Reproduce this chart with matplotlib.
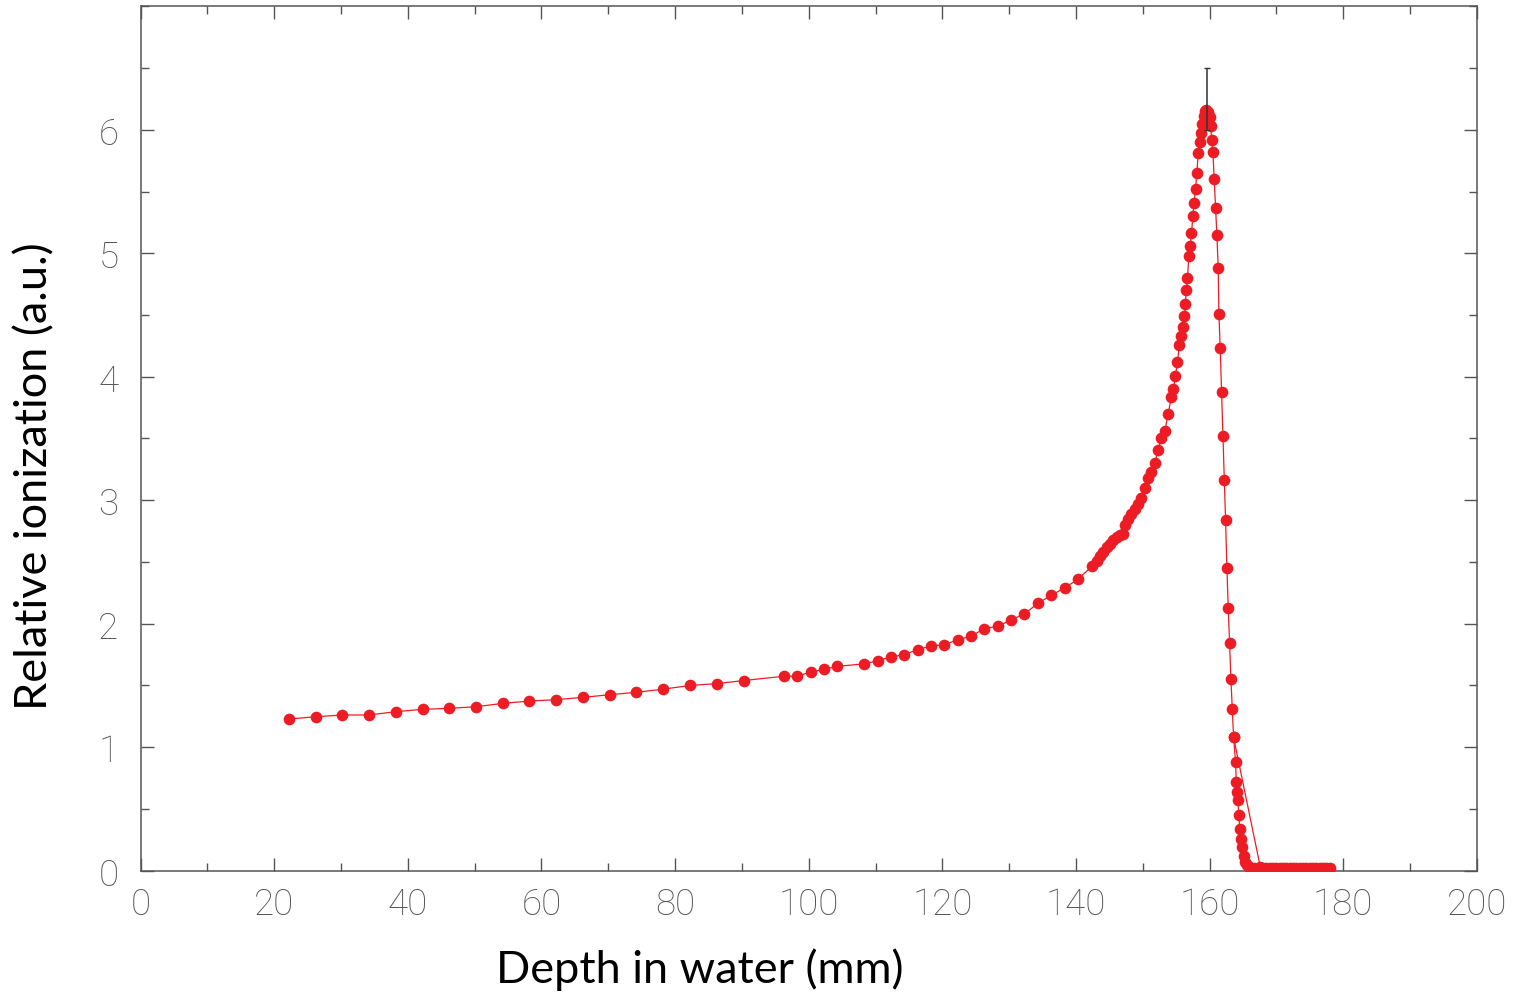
import matplotlib
matplotlib.use("Agg")
import matplotlib.pyplot as plt
from matplotlib.ticker import MultipleLocator

# ---- data ----
depth_main = [22.2, 26.2, 30.2, 34.2, 38.2, 42.2, 46.2, 50.2, 54.2, 58.2, 62.2, 66.2, 70.2, 74.2,
              78.2, 82.2, 86.2, 90.3, 96.3, 98.3, 100.3, 102.3, 104.3, 108.3, 110.3, 112.3, 114.3,
              116.3, 118.3, 120.3, 122.3, 124.3, 126.3, 128.3, 130.3, 132.3, 134.3, 136.3, 138.3,
              140.3, 142.4, 143.1, 143.6, 144.1, 144.6, 145.1, 145.6, 146.1, 146.6, 147.0, 147.4,
              147.8, 148.3, 148.8, 149.3, 149.8, 150.3, 150.8, 151.3, 151.8, 152.3, 152.8, 153.3,
              153.8, 154.3, 154.6, 154.9, 155.2, 155.5, 155.7, 156.0, 156.2, 156.4, 156.5, 156.7,
              156.9, 157.1, 157.3, 157.5, 157.7, 157.9, 158.1, 158.3, 158.5, 158.7, 158.9, 159.1,
              159.3, 159.5, 159.8, 160.0, 160.2, 160.3, 160.5, 160.7, 160.9, 161.1, 161.3, 161.4,
              161.6, 161.8, 162.0, 162.2, 162.4, 162.6, 162.8, 163.0, 163.2, 163.4, 163.6, 167.6,
              168.0, 168.5, 169.0, 169.5, 170.0, 170.5, 171.0, 171.5, 172.0, 172.5, 173.0, 173.5,
              174.0, 174.5, 175.0, 175.5, 176.0, 176.5, 177.0, 177.5, 178.0]
ion_main = [1.228, 1.247, 1.261, 1.261, 1.288, 1.307, 1.315, 1.328, 1.355, 1.374, 1.385, 1.404, 1.425,
            1.445, 1.47, 1.50, 1.515, 1.54, 1.575, 1.575, 1.61, 1.63, 1.655, 1.675, 1.70, 1.73, 1.75,
            1.79, 1.82, 1.83, 1.87, 1.90, 1.96, 1.98, 2.03, 2.08, 2.165, 2.23, 2.29, 2.36, 2.465,
            2.51, 2.55, 2.58, 2.62, 2.645, 2.68, 2.70, 2.72, 2.73, 2.80, 2.85, 2.89, 2.93, 2.97,
            3.02, 3.10, 3.18, 3.23, 3.30, 3.41, 3.50, 3.56, 3.70, 3.84, 3.90, 4.01, 4.12, 4.26,
            4.33, 4.40, 4.49, 4.59, 4.70, 4.80, 4.98, 5.06, 5.16, 5.30, 5.41, 5.52, 5.65, 5.81,
            5.90, 5.97, 6.05, 6.11, 6.15, 6.16, 6.14, 6.10, 6.03, 5.92, 5.82, 5.60, 5.37, 5.15,
            4.88, 4.51, 4.23, 3.88, 3.52, 3.16, 2.84, 2.45, 2.13, 1.84, 1.55, 1.31, 1.08, 0.03,
            0.02, 0.02, 0.02, 0.02, 0.02, 0.02, 0.02, 0.02, 0.02, 0.02, 0.02, 0.02, 0.02, 0.02,
            0.02, 0.02, 0.02, 0.02, 0.02, 0.02, 0.02]

depth_fall = [163.6, 163.9, 164.0, 164.1, 164.2, 164.4, 164.5, 164.7, 164.9, 165.1, 165.3, 165.6,
              165.9, 166.2, 166.6]
ion_fall = [1.08, 0.88, 0.72, 0.64, 0.57, 0.45, 0.34, 0.26, 0.19, 0.12, 0.07, 0.045, 0.03, 0.02, 0.02]

peak_depth = [159.6]
peak_ion = [6.15]
peak_err_low = [0.15]
peak_err_high = [0.35]

x_ticks = [0, 20, 40, 60, 80, 100, 120, 140, 160, 180, 200]
y_ticks = [0, 1, 2, 3, 4, 5, 6]

# ---- figure ----
fig = plt.figure(figsize=(15.14, 9.95), dpi=100)
ax = fig.add_axes([0.0929, 0.1239, 0.9754 - 0.0929, 0.9927 - 0.1239])

red = '#ed1c24'
ax.plot(depth_main, ion_main, '-', color=red, lw=0.9, marker='o', ms=8.4,
        mfc=red, mec=red, mew=0, zorder=3)
ax.plot(depth_fall, ion_fall, '-', color=red, lw=0.9, marker='o', ms=8.4,
        mfc=red, mec=red, mew=0, zorder=3)
ax.errorbar(peak_depth, peak_ion, yerr=[peak_err_low, peak_err_high], fmt='none',
            ecolor='#333333', elinewidth=1.1, capsize=2.5, capthick=1.0, zorder=5)

ax.set_xlim(0, 200)
ax.set_ylim(0, 7)
ax.set_xticks(x_ticks)
ax.set_yticks(y_ticks)
ax.xaxis.set_minor_locator(MultipleLocator(10))
ax.yaxis.set_minor_locator(MultipleLocator(0.5))

gray = '#555555'
for s in ax.spines.values():
    s.set_color(gray)
    s.set_linewidth(1.1)
ax.tick_params(which='both', direction='in', top=True, right=True, color=gray, width=1.0)
ax.tick_params(which='major', length=9.5, pad=11)
ax.tick_params(which='minor', length=5.8)
ax.tick_params(axis='y', which='major', pad=16)

tick_font = dict(family=['Roboto', 'DejaVu Sans'], weight='light', size=26.5, color=gray)
ax.set_xticklabels([str(v) for v in x_ticks], **tick_font)
ax.set_yticklabels([str(v) for v in y_ticks], **tick_font)

fig.text(700 / 1514, 1 - 970 / 995, 'Depth in water (mm)', ha='center', va='center',
         family=['Lato', 'DejaVu Sans'], size=32.5, color='black')
fig.text(35 / 1514, 1 - 476 / 995, 'Relative ionization (a.u.)', ha='center', va='center',
         rotation=90, family=['Lato', 'DejaVu Sans'], size=32.5, color='black')

fig.savefig('out.png', dpi=100)
